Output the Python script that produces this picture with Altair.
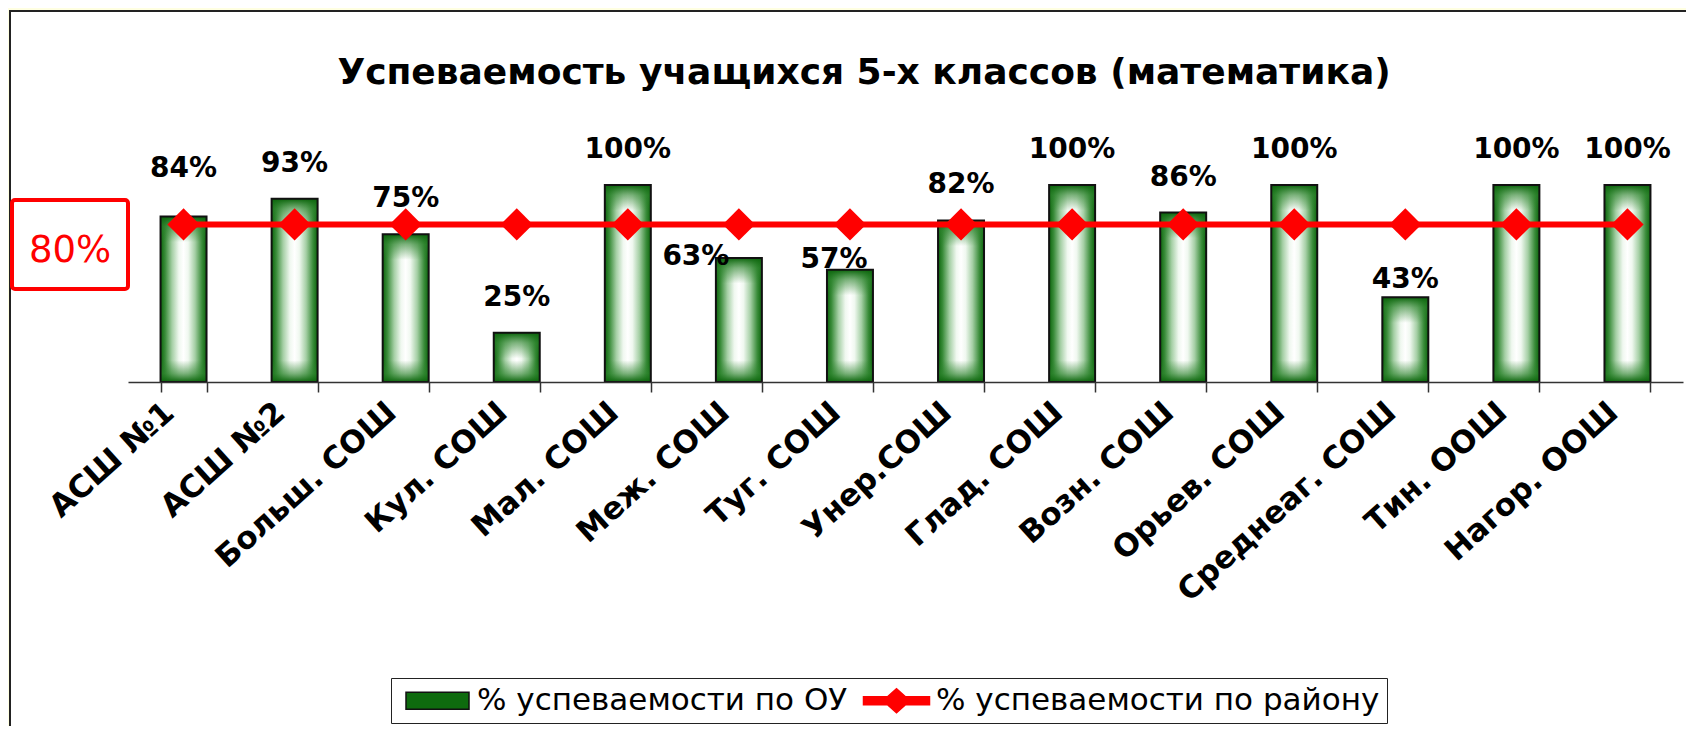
import altair as alt
import pandas as pd

# ---- data ----
schools = ["АСШ №1", "АСШ №2", "Больш. СОШ", "Кул. СОШ", "Мал. СОШ", "Меж. СОШ",
           "Туг. СОШ", "Унер.СОШ", "Глад. СОШ", "Возн. СОШ", "Орьев. СОШ",
           "Среднеаг. СОШ", "Тин. ООШ", "Нагор. ООШ"]
school_pct = [84, 93, 75, 25, 100, 63, 57, 82, 100, 86, 100, 43, 100, 100]
district_pct = [80, 80, 80, 80, 80, 80, 80, 80, 80, 80, 80, 80, 80, 80]
series_names = ["% успеваемости по ОУ", "% успеваемости по району"]
title_text = "Успеваемость учащихся 5-х классов (математика)"
district_label = "80%"

df = pd.DataFrame({"school": schools, "value": school_pct, "district": district_pct})

FONT = "DejaVu Sans"
GREEN = "#0E6B0E"
RED = "#FF0000"

x_enc = alt.X(
    "school:N",
    sort=schools,
    scale=alt.Scale(domain=schools, paddingInner=0.586, paddingOuter=0.293),
    axis=alt.Axis(
        title=None, labelAngle=-42, labelAlign="right", labelBaseline="middle",
        labelFont=FONT, labelFontWeight="bold", labelFontSize=31, labelColor="black",
        labelPadding=16, labelOffset=-14, labelLimit=400, labelOverlap=False,
        tickSize=10, tickColor="#333", tickWidth=1.5, tickBand="extent",
        domainColor="#333", domainWidth=1.5, zindex=1,
    ),
)
y_scale = alt.Scale(domain=[0, 100], nice=False, zero=True)

base = alt.Chart(df)

# decorative white frame
one = pd.DataFrame({"k": [0]})
frame = alt.Chart(one).mark_rect(fill="white", stroke="#222", strokeWidth=2).encode(
    x=alt.value(-118), x2=alt.value(1600), y=alt.value(-174), y2=alt.value(600)
)

h_grad = {
    "gradient": "linear", "x1": 0, "x2": 1, "y1": 0, "y2": 0,
    "stops": [
        {"offset": 0.0, "color": "#0B640B"},
        {"offset": 0.1, "color": "#3A8C3A"},
        {"offset": 0.25, "color": "#A5CFA5"},
        {"offset": 0.4, "color": "#F0F8F0"},
        {"offset": 0.5, "color": "#FFFFFF"},
        {"offset": 0.6, "color": "#F0F8F0"},
        {"offset": 0.75, "color": "#A5CFA5"},
        {"offset": 0.9, "color": "#3A8C3A"},
        {"offset": 1.0, "color": "#0B640B"},
    ],
}
top_grad = {
    "gradient": "linear", "x1": 0, "x2": 0, "y1": 0, "y2": 1,
    "stops": [
        {"offset": 0.0, "color": "rgba(11,100,11,1)"},
        {"offset": 0.4, "color": "rgba(42,130,42,0.6)"},
        {"offset": 1.0, "color": "rgba(42,130,42,0)"},
    ],
}
bot_grad = {
    "gradient": "linear", "x1": 0, "x2": 0, "y1": 0, "y2": 1,
    "stops": [
        {"offset": 0.0, "color": "rgba(42,130,42,0)"},
        {"offset": 0.6, "color": "rgba(42,130,42,0.6)"},
        {"offset": 1.0, "color": "rgba(11,100,11,1)"},
    ],
}

bars = base.mark_bar(color=h_grad).encode(
    x=x_enc, y=alt.Y("value:Q", scale=y_scale, axis=None)
)
bars_top = base.transform_calculate(lo="datum.value - 13").mark_bar(color=top_grad).encode(
    x=x_enc, y=alt.Y("value:Q", scale=y_scale, axis=None), y2="lo:Q"
)
bars_bot = base.transform_calculate(lo="0", hi="11").mark_bar(color=bot_grad).encode(
    x=x_enc, y=alt.Y("hi:Q", scale=y_scale, axis=None), y2="lo:Q"
)
bars_edge = base.mark_bar(fillOpacity=0, stroke="#111", strokeWidth=2).encode(
    x=x_enc, y=alt.Y("value:Q", scale=y_scale, axis=None)
)

line = base.mark_line(color=RED, strokeWidth=6).encode(
    x=x_enc, y=alt.Y("district:Q", scale=y_scale, axis=None)
)
pts = base.mark_point(shape="diamond", filled=True, color=RED, size=1050, opacity=1).encode(
    x=x_enc, y=alt.Y("district:Q", scale=y_scale, axis=None)
)

# label placement tweaks (pixels), as the reference moved a few labels by hand
special = {"АСШ №1": (0, -40), "Меж. СОШ": (-43, 7), "Туг. СОШ": (-16, -2),
           "Среднеаг. СОШ": (0, -9)}
lab_base = base.transform_calculate(lbl="datum.value + '%'")
normal_names = [s for s in schools if s not in special]
labels = lab_base.transform_filter(
    alt.FieldOneOfPredicate(field="school", oneOf=normal_names)
).mark_text(font=FONT, fontWeight="bold", fontSize=28, color="black",
            baseline="alphabetic", align="center", dy=-27).encode(
    x=x_enc, y=alt.Y("value:Q", scale=y_scale, axis=None), text="lbl:N"
)
special_layers = []
for name, (ddx, ddy) in special.items():
    special_layers.append(
        lab_base.transform_filter(alt.datum.school == name).mark_text(
            font=FONT, fontWeight="bold", fontSize=28, color="black",
            baseline="alphabetic", align="center", dx=ddx, dy=ddy).encode(
            x=x_enc, y=alt.Y("value:Q", scale=y_scale, axis=None), text="lbl:N"
        )
    )

box80 = alt.Chart(one).mark_rect(fill="white", stroke=RED, strokeWidth=4, cornerRadius=3).encode(
    x=alt.value(-116), x2=alt.value(0), y=alt.value(15), y2=alt.value(104)
)
text80 = alt.Chart(one).mark_text(text=district_label, font=FONT, fontSize=37, color=RED,
                                   align="center", baseline="alphabetic").encode(
    x=alt.value(-58), y=alt.value(77)
)
title = alt.Chart(one).mark_text(text=title_text, font=FONT, fontWeight="bold", fontSize=36,
                                  color="black", align="center", baseline="alphabetic").encode(
    x=alt.value(736), y=alt.value(-101)
)

rect_path = "M-3.15,-0.85L3.15,-0.85L3.15,0.85L-3.15,0.85Z"
line_path = ("M-3.3,-0.4L-0.9,-0.4L0,-1.2L0.9,-0.4L3.3,-0.4L3.3,0.4"
             "L0.9,0.4L0,1.2L-0.9,0.4L-3.3,0.4Z")
leg = alt.Legend(
    title=None, orient="none", legendX=263, legendY=493, direction="horizontal",
    labelFont=FONT, labelFontSize=31, labelColor="black", labelLimit=700,
    labelOffset=24, symbolOffset=24, symbolSize=400, symbolStrokeWidth=1.5,
    columnPadding=9, padding=7, strokeColor="#222", fillColor="white", symbolOpacity=1,
)
leg_df = pd.DataFrame({"series": series_names})
legend_layer = alt.Chart(leg_df).transform_filter("false").mark_point(filled=True, opacity=1).encode(
    color=alt.Color("series:N", scale=alt.Scale(domain=series_names, range=[GREEN, RED]), legend=leg),
    shape=alt.Shape("series:N", scale=alt.Scale(domain=series_names, range=[rect_path, line_path]), legend=leg),
    stroke=alt.Stroke("series:N", scale=alt.Scale(domain=series_names, range=["#111", RED]), legend=leg),
)

chart = alt.layer(
    frame, bars, bars_top, bars_bot, bars_edge, line, pts, labels, *special_layers,
    box80, text80, title, legend_layer
).properties(
    width=1555, height=197,
    padding={"left": 120, "top": 177, "right": 3, "bottom": 344},
    autosize=alt.AutoSizeParams(type="none"),
    background="#FFFFE1",
).configure_view(strokeWidth=0, fill=None)

chart.save("out.html", embed_options={"renderer": "svg", "actions": False})
